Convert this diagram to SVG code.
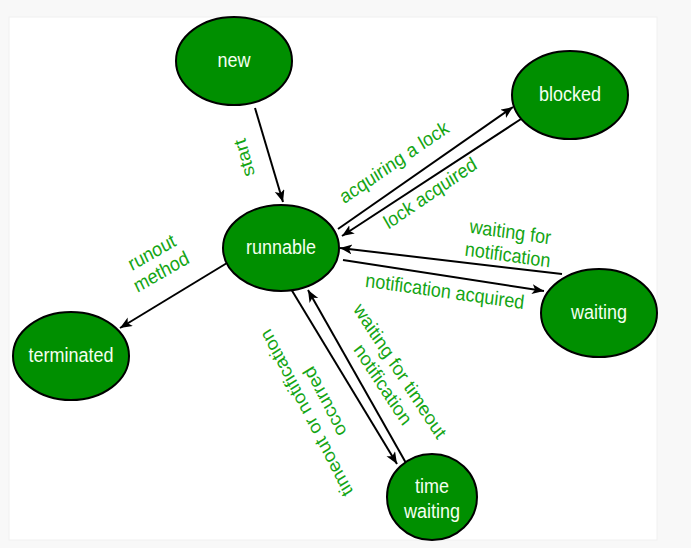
<svg xmlns="http://www.w3.org/2000/svg" width="691" height="548" viewBox="0 0 691 548">
<defs>
<marker id="arr" markerUnits="userSpaceOnUse" markerWidth="14" markerHeight="12" refX="12" refY="5" orient="auto">
<path d="M0,0 L12,5 L0,10 L3,5 z" fill="#000"/>
</marker>
<style>
.node ellipse{fill:#008f00;stroke:#000;stroke-width:2}
.node text{fill:#f4fff0;font-family:"Liberation Sans",Arial,sans-serif;font-size:18px;text-anchor:middle}
.edge{stroke:#000;stroke-width:2;fill:none;marker-end:url(#arr)}
.lbl{fill:#14a514;font-family:"Liberation Sans",Arial,sans-serif;font-size:18px;text-anchor:middle}
</style>
</defs>
<rect x="0" y="0" width="691" height="548" fill="#f8f8f8"/>
<rect x="9" y="17" width="648" height="523" fill="#fff" stroke="#f0f0f0"/>
<g id="connectors">
<path class="edge" d="M255,108 L283,202"/>
<path class="edge" d="M338,229 L513,107"/>
<path class="edge" d="M521,119 L342,236"/>
<path class="edge" d="M562,274 L340,248"/>
<path class="edge" d="M343,260 L544,291"/>
<path class="edge" d="M227,263 L120,328"/>
<path class="edge" d="M291,289 L397,464"/>
<path class="edge" d="M406,463 L308,290"/>
</g>
<g id="labels">
<text class="lbl" transform="translate(244,158) scale(1,1.1) rotate(-106.4)" dy="0.35em">start</text>
<text class="lbl" transform="translate(394,162) scale(1,1.1) rotate(-32)" dy="0.35em">acquiring a lock</text>
<text class="lbl" transform="translate(430,193) scale(1,1.1) rotate(-32)" dy="0.35em">lock acquired</text>
<text class="lbl" transform="translate(509,244) scale(1,1.1) rotate(7.3)"><tspan x="0" dy="-5">waiting for</tspan><tspan x="0" dy="21">notification</tspan></text>
<text class="lbl" transform="translate(445,291) scale(1,1.1) rotate(7.3)" dy="0.35em">notification acquired</text>
<text class="lbl" transform="translate(157,263) scale(1,1.1) rotate(-27.7)"><tspan x="0" dy="-5">runout</tspan><tspan x="0" dy="20">method</tspan></text>
<text class="lbl" transform="translate(391,378) scale(1,1.1) rotate(54.5)"><tspan x="0" dy="-5">waiting for timeout</tspan><tspan x="0" dy="21">notification</tspan></text>
<text class="lbl" transform="translate(316,407) scale(1,1.1) rotate(-119.3)"><tspan x="0" dy="-5">timeout or notification</tspan><tspan x="0" dy="21">occurred</tspan></text>
</g>
<g id="new" class="node"><ellipse cx="234" cy="61" rx="58" ry="44"/><text transform="translate(234,67) scale(1,1.1)">new</text></g>
<g id="blocked" class="node"><ellipse cx="570" cy="95" rx="58" ry="44"/><text transform="translate(570,101) scale(1,1.1)">blocked</text></g>
<g id="runnable" class="node"><ellipse cx="281" cy="248" rx="58" ry="43"/><text transform="translate(281,254) scale(1,1.1)">runnable</text></g>
<g id="waiting" class="node"><ellipse cx="599" cy="313" rx="58" ry="44"/><text transform="translate(599,319) scale(1,1.1)">waiting</text></g>
<g id="terminated" class="node"><ellipse cx="71" cy="356" rx="58" ry="44"/><text transform="translate(71,362) scale(1,1.1)">terminated</text></g>
<g id="time_waiting" class="node"><ellipse cx="432" cy="497" rx="45" ry="43"/><text transform="translate(432,493) scale(1,1.1)">time</text><text transform="translate(432,518) scale(1,1.1)">waiting</text></g>
</svg>
